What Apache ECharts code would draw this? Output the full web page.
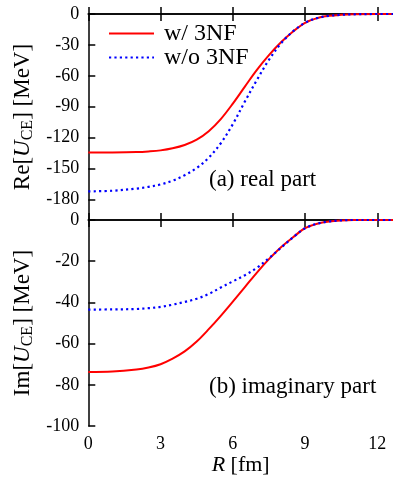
<!DOCTYPE html>
<html>
<head>
<meta charset="utf-8">
<script src="https://cdn.jsdelivr.net/npm/echarts@6/dist/echarts.min.js"></script>
<style>html,body{margin:0;padding:0;background:#fff}#c{width:393px;height:481px}</style>
</head>
<body>
<div id="c"></div>
<script>
// R [fm]
const R = [0, 1, 2, 2.5, 3, 3.5, 4, 4.5, 5, 5.5, 6, 6.5, 7, 7.5, 8, 8.5, 9, 9.5, 10, 10.5, 11, 12, 13];
// (a) real part [MeV]
const reWith3NF    = [-134.5, -134.4, -134.0, -133.4, -132.4, -130.4, -127.2, -122.0, -113.8, -102.0, -87.0, -70.5, -54.3, -40.0, -27.5, -17.0, -8.5, -4.0, -1.8, -0.8, -0.3, 0, 0];
const reWithout3NF = [-172.2, -171.6, -169.5, -167.8, -165.5, -161.8, -156.5, -149.5, -139.5, -125.5, -107.0, -85.0, -64.0, -44.5, -28.5, -16.8, -8.5, -4.0, -1.8, -0.8, -0.3, 0, 0];
// (b) imaginary part [MeV]
const imWith3NF    = [-73.8, -73.6, -72.6, -71.6, -70.0, -67.3, -63.8, -59.0, -53.0, -46.5, -39.6, -32.6, -25.5, -19.0, -13.2, -8.4, -4.0, -1.8, -0.7, -0.2, 0, 0, 0];
const imWithout3NF = [-43.5, -43.4, -43.2, -42.8, -42.2, -41.1, -39.8, -38.2, -35.9, -32.8, -29.8, -26.8, -23.2, -18.5, -13.5, -8.4, -4.0, -1.8, -0.7, -0.2, 0, 0, 0];
// tick labels
const reTicks = [0, -30, -60, -90, -120, -150, -180];
const imTicks = [0, -20, -40, -60, -80, -100];
const rTicks = [0, 3, 6, 9, 12];

const FONT = "'Liberation Serif', 'Times New Roman', serif";
const pair = arr => R.map((x, i) => [x, arr[i]]);

const lbl = { t: { fontFamily: FONT, fontSize: 18, color: '#000' } };
const axisLine = { lineStyle: { color: '#000', width: 1.5 } };
const tickIn = { inside: true, length: 7, lineStyle: { color: '#000', width: 1.5 } };
function xAx(gridIndex, position, showLabel) {
  return {
    type: 'value', gridIndex, position, min: 0, max: 12.65, interval: 3,
    axisLine, splitLine: { show: false },
    axisTick: Object.assign({ customValues: rTicks }, tickIn),
    axisLabel: { show: showLabel, customValues: rTicks, margin: 9, color: '#000', fontFamily: FONT, fontSize: 18,
      formatter: v => '{t|' + v + '}', rich: lbl },
    name: showLabel ? '{i|R}{n| [fm]}' : '', nameLocation: 'middle', nameGap: 16,
    nameTextStyle: { color: '#000', fontFamily: FONT, fontSize: 22,
      rich: { i: { fontStyle: 'italic', fontFamily: FONT, fontSize: 22, color: '#000' },
              n: { fontFamily: FONT, fontSize: 22, color: '#000' } } }
  };
}
function yName(prefix) {
  return '{n|' + prefix + '[}{i|U}{s|CE}{n|] [MeV]}';
}
const yRich = {
  n: { fontFamily: FONT, fontSize: 23, color: '#000' },
  i: { fontFamily: FONT, fontSize: 23, fontStyle: 'italic', color: '#000' },
  s: { fontFamily: FONT, fontSize: 16, color: '#000', padding: [9, 0, 0, 0] }
};

const chart = echarts.init(document.getElementById('c'), null, { renderer: 'canvas' });
chart.setOption({
  animation: false,
  backgroundColor: '#fff',
  textStyle: { fontFamily: FONT, color: '#000' },
  grid: [
    { left: 88.3, top: 14, right: 0, height: 206 },
    { left: 88.3, top: 220, right: 0, height: 206 }
  ],
  title: [
    { text: '(a) real part', left: 209, top: 168, padding: 0,
      textStyle: { fontFamily: FONT, fontSize: 23, fontWeight: 'normal', color: '#000', lineHeight: 24 } },
    { text: '(b) imaginary part', left: 209, top: 375, padding: 0,
      textStyle: { fontFamily: FONT, fontSize: 23, fontWeight: 'normal', color: '#000', lineHeight: 24 } }
  ],
  legend: {
    orient: 'vertical', left: 108, top: 21.5, padding: 0,
    itemWidth: 45, itemHeight: 14, itemGap: 0,
    itemStyle: { opacity: 0 },
    data: ['w/ 3NF', 'w/o 3NF'],
    textStyle: { fontFamily: FONT, fontSize: 24, color: '#000', lineHeight: 21, padding: [0, 0, 0, 5] }
  },
  xAxis: [xAx(0, 'bottom', false), xAx(0, 'top', false), xAx(1, 'bottom', true), xAx(1, 'top', false)],
  yAxis: [
    { type: 'value', gridIndex: 0, min: -200, max: 0, axisLine, splitLine: { show: false },
      axisTick: Object.assign({ customValues: reTicks }, tickIn),
      axisLabel: { customValues: reTicks, margin: 9, color: '#000', fontFamily: FONT, fontSize: 18,
        formatter: v => '{t|' + v + '}', rich: lbl },
      name: yName('Re'), nameLocation: 'middle', nameGap: 50, nameTextStyle: { rich: yRich } },
    { type: 'value', gridIndex: 1, min: -100, max: 0, interval: 20, axisLine, splitLine: { show: false },
      axisTick: Object.assign({ customValues: imTicks }, tickIn),
      axisLabel: { customValues: imTicks, margin: 9, color: '#000', fontFamily: FONT, fontSize: 18,
        formatter: v => '{t|' + v + '}', rich: lbl },
      name: yName('Im'), nameLocation: 'middle', nameGap: 50, nameTextStyle: { rich: yRich } }
  ],
  series: [
    { name: 'w/ 3NF', type: 'line', xAxisIndex: 0, yAxisIndex: 0, data: pair(reWith3NF),
      smooth: 0.35, symbol: 'none', z: 4, color: '#ff0000', lineStyle: { color: '#ff0000', width: 2 } },
    { name: 'w/o 3NF', type: 'line', xAxisIndex: 0, yAxisIndex: 0, data: pair(reWithout3NF),
      smooth: 0.35, symbol: 'none', z: 5, color: '#0000ff', lineStyle: { color: '#0000ff', width: 2.2, type: [2.2, 3.2] } },
    { name: 'w/ 3NF', type: 'line', xAxisIndex: 2, yAxisIndex: 1, data: pair(imWith3NF),
      smooth: 0.35, symbol: 'none', z: 4, color: '#ff0000', lineStyle: { color: '#ff0000', width: 2 } },
    { name: 'w/o 3NF', type: 'line', xAxisIndex: 2, yAxisIndex: 1, data: pair(imWithout3NF),
      smooth: 0.35, symbol: 'none', z: 5, color: '#0000ff', lineStyle: { color: '#0000ff', width: 2.2, type: [2.2, 3.2] } }
  ]
});
</script>
</body>
</html>
